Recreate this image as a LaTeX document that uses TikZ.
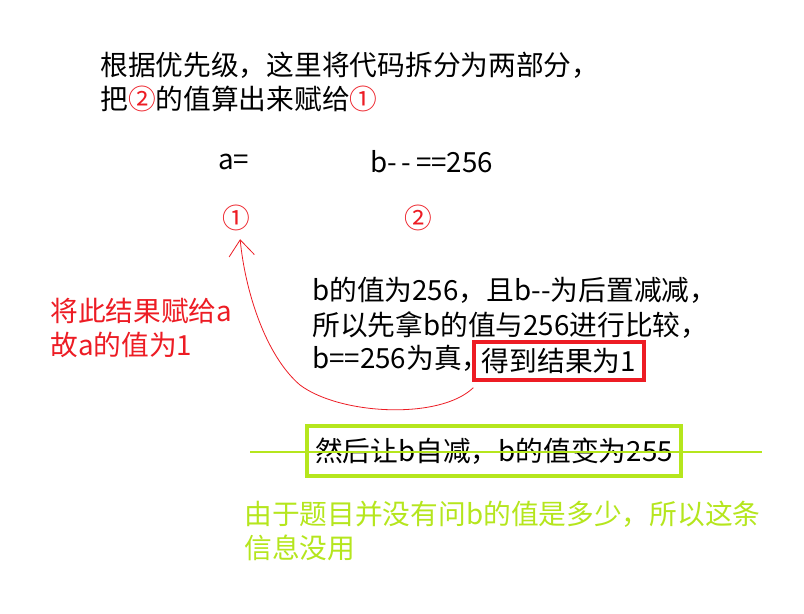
\documentclass[tikz,border=0pt]{standalone}
\usepackage{fontspec}
\setmainfont{Noto Sans CJK SC}
\usepackage{xcolor}
\usepackage{tikz}
\usetikzlibrary{arrows.meta}
\definecolor{markred}{HTML}{ED1C24}
\definecolor{notegreen}{HTML}{B5E61D}

\begin{document}
\begin{tikzpicture}[x=0.75pt, y=-0.75pt,
    txt/.style={anchor=west, inner sep=0pt, align=left,
                font=\fontsize{20.8}{26}\selectfont}]
    \useasboundingbox[fill=white] (0,0) rectangle (804,614);
    % heading
    \node[txt] (title) at (100,82)
      {根据优先级，这里将代码拆分为两部分，\\把{\color{markred}②}的值算出来赋给{\color{markred}①}};
    \node[txt] (expA) at (218,162) {a=};
    \node[txt] (expB) at (370,162) {b-\,-\,==256};
    \node[txt, text=markred] (markA) at (222,218) {①};
    \node[txt, text=markred] (markB) at (404,218) {②};
    % explanation
    \node[txt] (lineA) at (312,290) {b的值为256，且b-{}-为后置减减，};
    \node[txt] (lineB) at (312,325) {所以先拿b的值与256进行比较，};
    \node[txt] (lineC) at (312,358) {b==256为真，};
    \node[txt, draw=markred, line width=3pt, minimum width=127.5pt, minimum height=29pt]
      (result) at (472,361) {得到结果为1};
    \node[txt, text=markred] (assign) at (50,328) {将此结果赋给a\\故a的值为1};
    \draw[markred, line width=0.6pt, -{Straight Barb[length=12pt, width=19pt]}]
      ([xshift=1pt, yshift=-4pt]result.south west)
      .. controls (440,420) and (340,415) .. (300,385)
      .. controls (265,355) and (245,290) .. ([xshift=3pt, yshift=-6pt]markA.south);
    % decrement note
    \node[txt, draw=notegreen, line width=3pt, minimum width=280.5pt, minimum height=37.5pt]
      (decr) at (305,451) {然后让b自减，b的值变为255};
    \coordinate (strikeL) at (250,452);
    \coordinate (strikeR) at (762,452);
    \draw[notegreen, line width=1.5pt] (strikeL) -- (strikeR);
    \node[txt, text=notegreen] (useless) at (244,531)
      {由于题目并没有问b的值是多少，所以这条\\信息没用};
\end{tikzpicture}
\end{document}
